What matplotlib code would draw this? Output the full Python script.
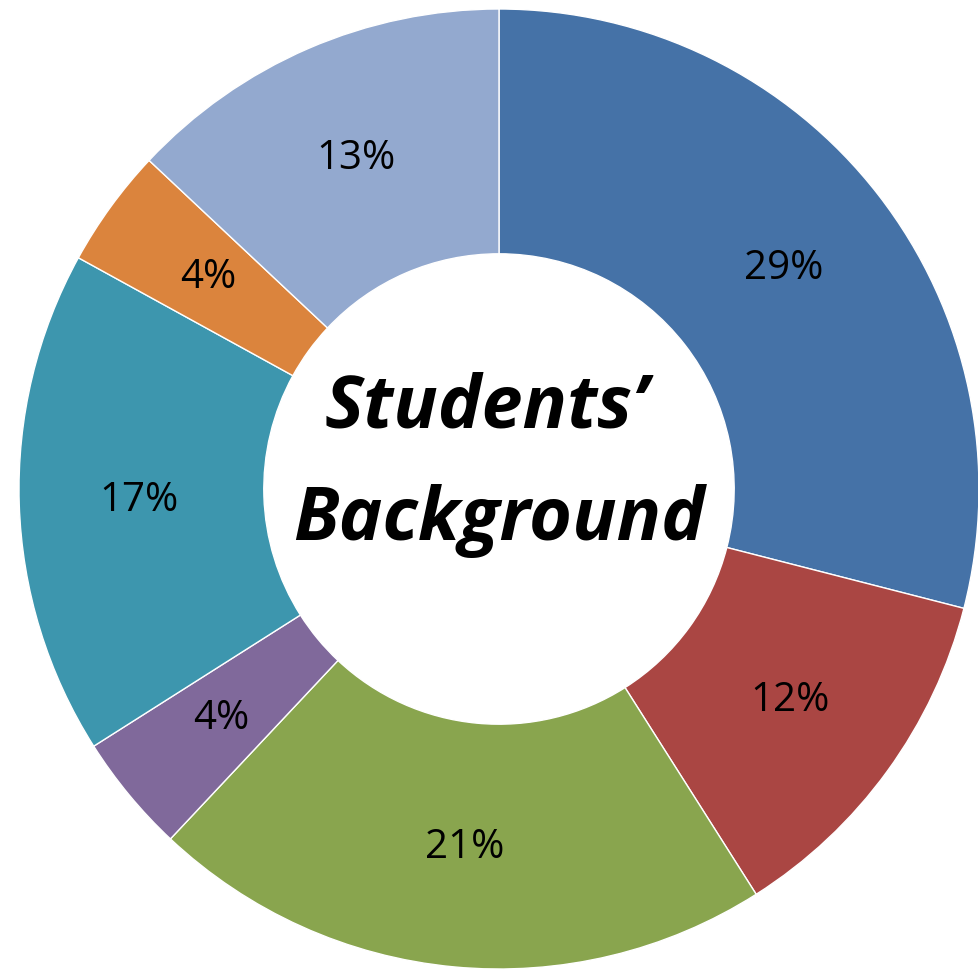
import matplotlib.pyplot as plt

# Students' background shares (clockwise from 12 o'clock)
values = [29, 12, 21, 4, 17, 4, 13]
colors = ["#4572A7", "#AA4643", "#89A54E", "#80699B", "#3D96AE", "#DB843D", "#93A9CF"]
title_lines = ["Students\u2019", "Background"]

fig = plt.figure(figsize=(9.79, 9.76), dpi=100)
ax = fig.add_axes([0, 0, 1, 1])

wedges, texts, autotexts = ax.pie(
    values, colors=colors, startangle=90, counterclock=False,
    center=(499, 487), radius=480, frame=True,
    autopct=lambda p: f"{p:.0f}%", pctdistance=0.75,
    wedgeprops=dict(width=480 * 0.51, edgecolor="white", linewidth=1),
    textprops=dict(fontsize=29, color="#000000", family="Open Sans"),
)
ax.set_xlim(0, 979)
ax.set_ylim(0, 976)
ax.set_aspect("equal")
ax.axis("off")

# centre title, one line at a time
for txt, x, y in zip(title_lines, [487, 499], [548, 436]):
    ax.text(x, y, txt, ha="center", va="baseline",
            fontsize=53, fontweight="bold", fontstyle="italic",
            family="Open Sans")

fig.savefig("out.png", dpi=100)
